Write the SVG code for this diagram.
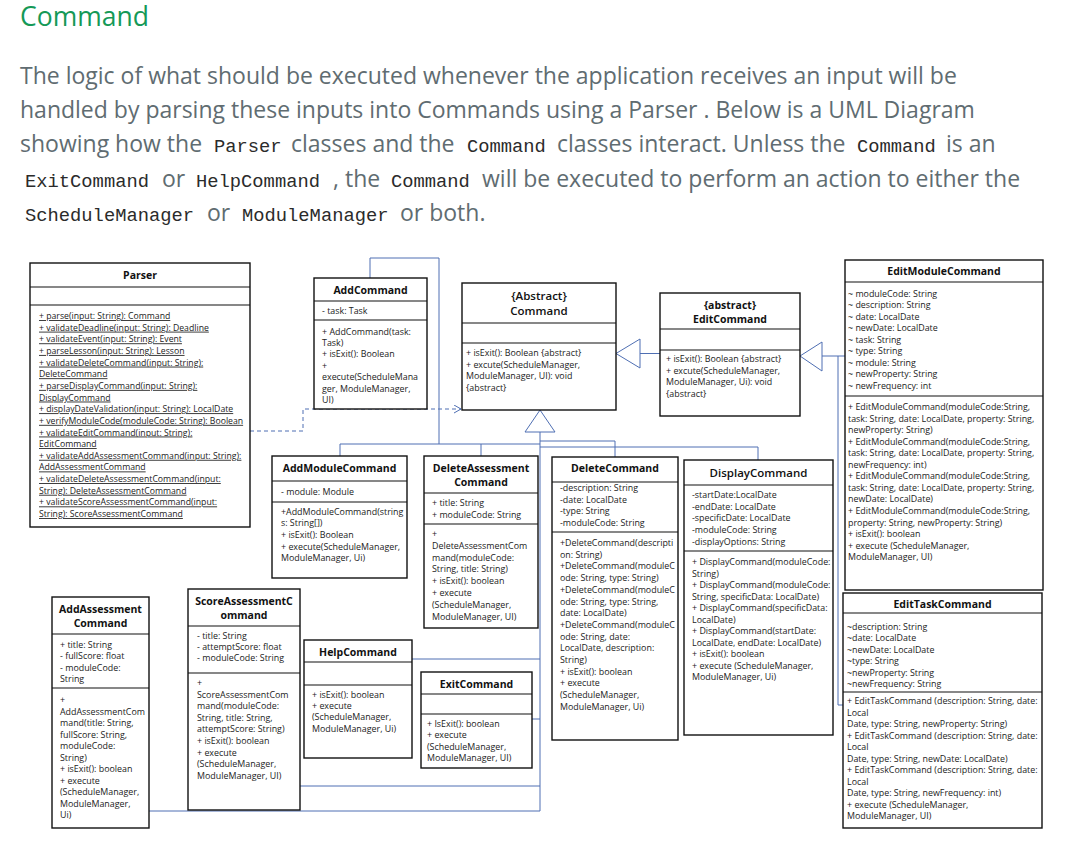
<svg xmlns="http://www.w3.org/2000/svg" width="1072" height="847" viewBox="0 0 1072 847">
<style>
.b{fill:#fff;stroke:#111;stroke-width:1.4}
.d{stroke:#111;stroke-width:1.2}
.t{font-family:'Open Sans','Liberation Sans',sans-serif;font-size:8.9px;fill:#222}
.u{text-decoration:underline;font-size:8.7px}
.h{font-family:'Open Sans','Liberation Sans',sans-serif;font-size:10.5px;font-weight:bold;fill:#111;text-anchor:middle}
.hn{font-family:'Open Sans','Liberation Sans',sans-serif;font-size:11.5px;font-weight:600;fill:#111;text-anchor:middle}
.c{fill:none;stroke:#4f6fb3;stroke-width:1}
.dash{fill:none;stroke:#4f6fb3;stroke-width:1;stroke-dasharray:4 3}
.tri{fill:#fff;stroke:#4f6fb3;stroke-width:1}
.p{font-family:'Open Sans','Liberation Sans',sans-serif;font-size:23px;fill:#606c71}
.k{font-family:'Liberation Mono','DejaVu Sans Mono',monospace;font-size:18.8px;fill:#2b2b2b}
</style>
<rect width="1072" height="847" fill="#fff"/>
<g id="header">
<text x="20" y="26" font-family="'Open Sans','Liberation Sans',sans-serif" font-size="26.5" fill="#159957">Command</text>
<text class="p" x="20" y="84">The logic of what should be executed whenever the application receives an input will be</text>
<text class="p" x="20" y="118">handled by parsing these inputs into Commands using a Parser . Below is a UML Diagram</text>
<text class="p" x="20" y="152">showing how the</text>
<text class="k" x="214" y="152">Parser</text>
<text class="p" x="291" y="152">classes and the</text>
<text class="k" x="467" y="152">Command</text>
<text class="p" x="557" y="152">classes interact. Unless the</text>
<text class="k" x="857" y="152">Command</text>
<text class="p" x="946" y="152">is an</text>
<text class="k" x="25" y="187">ExitCommand</text>
<text class="p" x="162" y="187">or</text>
<text class="k" x="196" y="187">HelpCommand</text>
<text class="p" x="333" y="187">, the</text>
<text class="k" x="391" y="187">Command</text>
<text class="p" x="482" y="187">will be executed to perform an action to either the</text>
<text class="k" x="25" y="221">ScheduleManager</text>
<text class="p" x="207" y="221">or</text>
<text class="k" x="242" y="221">ModuleManager</text>
<text class="p" x="400" y="221">or both.</text>
</g>
<defs>
<marker id="open" markerWidth="10" markerHeight="10" refX="8" refY="4" orient="auto" markerUnits="userSpaceOnUse">
<path d="M1,0 L8,4 L1,8" fill="none" stroke="#4f6fb3" stroke-width="1"/>
</marker>
</defs>
<g id="connectors">
<polyline class="c" points="370,278 370,258 439,258 439,444"/>
<polyline class="c" points="340,456 340,444 540,444"/>
<line class="c" x1="481" y1="444" x2="481" y2="456"/>
<line class="c" x1="540" y1="432" x2="540" y2="811"/>
<polyline class="c" points="540,441 615,441 615,457"/>
<polyline class="c" points="540,447 758,447 758,460"/>
<line class="c" x1="412" y1="659" x2="540" y2="659"/>
<line class="c" x1="532" y1="719" x2="540" y2="719"/>
<line class="c" x1="300" y1="786" x2="540" y2="786"/>
<line class="c" x1="149" y1="811" x2="540" y2="811"/>
<polygon class="tri" points="540,410 525,432 555,432"/>
<line class="c" x1="640" y1="353.5" x2="660" y2="353.5"/>
<polygon class="tri" points="616,353.5 640,339 640,368"/>
<line class="c" x1="822" y1="356" x2="845" y2="356"/>
<polyline class="c" points="838,356 838,705 843,705"/>
<polygon class="tri" points="800,356 822,342 822,371"/>
<polyline class="dash" points="250,431 303,431 303,409 461,409" marker-end="url(#open)"/>
</g>
<g id="Parser">
<rect class="b" x="30" y="263" width="220" height="264"/>
<line class="d" x1="30" y1="287" x2="250" y2="287"/>
<line class="d" x1="30" y1="305" x2="250" y2="305"/>
<text class="h" x="140" y="279">Parser</text>
<text class="t u" x="39" y="319"><tspan x="39">+ parse(input: String): Command</tspan><tspan x="39" dy="11.65">+ validateDeadline(input: String): Deadline</tspan><tspan x="39" dy="11.65">+ validateEvent(input: String): Event</tspan><tspan x="39" dy="11.65">+ parseLesson(input: String): Lesson</tspan><tspan x="39" dy="11.65">+ validateDeleteCommand(input: String):</tspan><tspan x="39" dy="11.65">DeleteCommand</tspan><tspan x="39" dy="11.65">+ parseDisplayCommand(input: String):</tspan><tspan x="39" dy="11.65">DisplayCommand</tspan><tspan x="39" dy="11.65">+ displayDateValidation(input: String): LocalDate</tspan><tspan x="39" dy="11.65">+ verifyModuleCode(moduleCode: String): Boolean</tspan><tspan x="39" dy="11.65">+ validateEditCommand(input: String):</tspan><tspan x="39" dy="11.65">EditCommand</tspan><tspan x="39" dy="11.65">+ validateAddAssessmentCommand(input: String):</tspan><tspan x="39" dy="11.65">AddAssessmentCommand</tspan><tspan x="39" dy="11.65">+ validateDeleteAssessmentCommand(input:</tspan><tspan x="39" dy="11.65">String): DeleteAssessmentCommand</tspan><tspan x="39" dy="11.65">+ validateScoreAssessmentCommand(input:</tspan><tspan x="39" dy="11.65">String): ScoreAssessmentCommand</tspan></text>
</g>
<g id="AddCommand">
<rect class="b" x="314" y="278" width="113" height="131"/>
<line class="d" x1="314" y1="301" x2="427" y2="301"/>
<line class="d" x1="314" y1="320" x2="427" y2="320"/>
<text class="h" x="370.5" y="294">AddCommand</text>
<text class="t" x="322" y="314">- task: Task</text>
<text class="t" x="322" y="334.5"><tspan x="322">+ AddCommand(task:</tspan><tspan x="322" dy="11.4">Task)</tspan><tspan x="322" dy="11.4">+ isExit(): Boolean</tspan><tspan x="322" dy="11.4">+</tspan><tspan x="322" dy="11.4">execute(ScheduleMana</tspan><tspan x="322" dy="11.4">ger, ModuleManager,</tspan><tspan x="322" dy="11.4">UI)</tspan></text>
</g>
<g id="Command">
<rect class="b" x="462" y="283" width="154" height="127"/>
<line class="d" x1="462" y1="323" x2="616" y2="323"/>
<line class="d" x1="462" y1="343" x2="616" y2="343"/>
<text class="hn" x="539" y="300">{Abstract}</text>
<text class="hn" x="539" y="315">Command</text>
<text class="t" x="466" y="356"><tspan x="466">+ isExit(): Boolean {abstract}</tspan><tspan x="466" dy="11.7">+ excute(ScheduleManager,</tspan><tspan x="466" dy="11.7">ModuleManager, UI): void</tspan><tspan x="466" dy="11.7">{abstract}</tspan></text>
</g>
<g id="EditCommand">
<rect class="b" x="660" y="293" width="140" height="123"/>
<line class="d" x1="660" y1="329" x2="800" y2="329"/>
<line class="d" x1="660" y1="350" x2="800" y2="350"/>
<text class="h" x="730" y="309">{abstract}</text>
<text class="h" x="730" y="323">EditCommand</text>
<text class="t" x="666" y="362"><tspan x="666">+ isExit(): Boolean {abstract}</tspan><tspan x="666" dy="11.7">+ excute(ScheduleManager,</tspan><tspan x="666" dy="11.7">ModuleManager, Ui): void</tspan><tspan x="666" dy="11.7">{abstract}</tspan></text>
</g>
<g id="EditModuleCommand">
<rect class="b" x="845" y="260" width="198" height="330"/>
<line class="d" x1="845" y1="282" x2="1043" y2="282"/>
<line class="d" x1="845" y1="396" x2="1043" y2="396"/>
<text class="h" x="944" y="275">EditModuleCommand</text>
<text class="t" x="848" y="296.5"><tspan x="848">~ moduleCode: String</tspan><tspan x="848" dy="11.5">~ description: String</tspan><tspan x="848" dy="11.5">~ date: LocalDate</tspan><tspan x="848" dy="11.5">~ newDate: LocalDate</tspan><tspan x="848" dy="11.5">~ task: String</tspan><tspan x="848" dy="11.5">~ type: String</tspan><tspan x="848" dy="11.5">~ module: String</tspan><tspan x="848" dy="11.5">~ newProperty: String</tspan><tspan x="848" dy="11.5">~ newFrequency: int</tspan></text>
<text class="t" x="848" y="410"><tspan x="848">+ EditModuleCommand(moduleCode:String,</tspan><tspan x="848" dy="11.55">task: String, date: LocalDate, property: String,</tspan><tspan x="848" dy="11.55">newProperty: String)</tspan><tspan x="848" dy="11.55">+ EditModuleCommand(moduleCode:String,</tspan><tspan x="848" dy="11.55">task: String, date: LocalDate, property: String,</tspan><tspan x="848" dy="11.55">newFrequency: int)</tspan><tspan x="848" dy="11.55">+ EditModuleCommand(moduleCode:String,</tspan><tspan x="848" dy="11.55">task: String, date: LocalDate, property: String,</tspan><tspan x="848" dy="11.55">newDate: LocalDate)</tspan><tspan x="848" dy="11.55">+ EditModuleCommand(moduleCode:String,</tspan><tspan x="848" dy="11.55">property: String, newProperty: String)</tspan><tspan x="848" dy="11.55">+ isExit(): boolean</tspan><tspan x="848" dy="11.55">+ execute (ScheduleManager,</tspan><tspan x="848" dy="11.55">ModuleManager, UI)</tspan></text>
</g>
<g id="EditTaskCommand">
<rect class="b" x="843" y="593" width="199" height="235"/>
<line class="d" x1="843" y1="613" x2="1042" y2="613"/>
<line class="d" x1="843" y1="692" x2="1042" y2="692"/>
<text class="h" x="942.5" y="608">EditTaskCommand</text>
<text class="t" x="847" y="630"><tspan x="847">~description: String</tspan><tspan x="847" dy="11.4">~date: LocalDate</tspan><tspan x="847" dy="11.4">~newDate: LocalDate</tspan><tspan x="847" dy="11.4">~type: String</tspan><tspan x="847" dy="11.4">~newProperty: String</tspan><tspan x="847" dy="11.4">~newFrequency: String</tspan></text>
<text class="t" x="847" y="704"><tspan x="847">+ EditTaskCommand (description: String, date:</tspan><tspan x="847" dy="11.5">Local</tspan><tspan x="847" dy="11.5">Date, type: String, newProperty: String)</tspan><tspan x="847" dy="11.5">+ EditTaskCommand (description: String, date:</tspan><tspan x="847" dy="11.5">Local</tspan><tspan x="847" dy="11.5">Date, type: String, newDate: LocalDate)</tspan><tspan x="847" dy="11.5">+ EditTaskCommand (description: String, date:</tspan><tspan x="847" dy="11.5">Local</tspan><tspan x="847" dy="11.5">Date, type: String, newFrequency: int)</tspan><tspan x="847" dy="11.5">+ execute (ScheduleManager,</tspan><tspan x="847" dy="11.5">ModuleManager, UI)</tspan></text>
</g>
<g id="AddModuleCommand">
<rect class="b" x="272" y="456" width="135" height="122"/>
<line class="d" x1="272" y1="481" x2="407" y2="481"/>
<line class="d" x1="272" y1="502" x2="407" y2="502"/>
<text class="h" x="339.5" y="472">AddModuleCommand</text>
<text class="t" x="281" y="495">- module: Module</text>
<text class="t" x="281" y="514.5"><tspan x="281">+AddModuleCommand(string</tspan><tspan x="281" dy="11.7">s: String[])</tspan><tspan x="281" dy="11.7">+ isExit(): Boolean</tspan><tspan x="281" dy="11.7">+ execute(ScheduleManager,</tspan><tspan x="281" dy="11.7">ModuleManager, Ui)</tspan></text>
</g>
<g id="DeleteAssessmentCommand">
<rect class="b" x="424" y="456" width="114" height="172"/>
<line class="d" x1="424" y1="493" x2="538" y2="493"/>
<line class="d" x1="424" y1="524" x2="538" y2="524"/>
<text class="h" x="481" y="472">DeleteAssessment</text>
<text class="h" x="481" y="486">Command</text>
<text class="t" x="432" y="506"><tspan x="432">+ title: String</tspan><tspan x="432" dy="11.5">+ moduleCode: String</tspan></text>
<text class="t" x="432" y="537"><tspan x="432">+</tspan><tspan x="432" dy="11.8">DeleteAssessmentCom</tspan><tspan x="432" dy="11.8">mand(moduleCode:</tspan><tspan x="432" dy="11.8">String, title: String)</tspan><tspan x="432" dy="11.8">+ isExit(): boolean</tspan><tspan x="432" dy="11.8">+ execute</tspan><tspan x="432" dy="11.8">(ScheduleManager,</tspan><tspan x="432" dy="11.8">ModuleManager, UI)</tspan></text>
</g>
<g id="DeleteCommand">
<rect class="b" x="552" y="457" width="126" height="283"/>
<line class="d" x1="552" y1="482" x2="678" y2="482"/>
<line class="d" x1="552" y1="532" x2="678" y2="532"/>
<text class="h" x="615" y="472">DeleteCommand</text>
<text class="t" x="560" y="491"><tspan x="560">-description: String</tspan><tspan x="560" dy="11.7">-date: LocalDate</tspan><tspan x="560" dy="11.7">-type: String</tspan><tspan x="560" dy="11.7">-moduleCode: String</tspan></text>
<text class="t" x="560" y="546"><tspan x="560">+DeleteCommand(descripti</tspan><tspan x="560" dy="11.7">on: String)</tspan><tspan x="560" dy="11.7">+DeleteCommand(moduleC</tspan><tspan x="560" dy="11.7">ode: String, type: String)</tspan><tspan x="560" dy="11.7">+DeleteCommand(moduleC</tspan><tspan x="560" dy="11.7">ode: String, type: String,</tspan><tspan x="560" dy="11.7">date: LocalDate)</tspan><tspan x="560" dy="11.7">+DeleteCommand(moduleC</tspan><tspan x="560" dy="11.7">ode: String, date:</tspan><tspan x="560" dy="11.7">LocalDate, description:</tspan><tspan x="560" dy="11.7">String)</tspan><tspan x="560" dy="11.7">+ isExit(): boolean</tspan><tspan x="560" dy="11.7">+ execute</tspan><tspan x="560" dy="11.7">(ScheduleManager,</tspan><tspan x="560" dy="11.7">ModuleManager, Ui)</tspan></text>
</g>
<g id="DisplayCommand">
<rect class="b" x="684" y="460" width="149" height="275"/>
<line class="d" x1="684" y1="485" x2="833" y2="485"/>
<line class="d" x1="684" y1="551" x2="833" y2="551"/>
<text class="hn" x="758.5" y="477">DisplayCommand</text>
<text class="t" x="692" y="498"><tspan x="692">-startDate:LocalDate</tspan><tspan x="692" dy="11.7">-endDate: LocalDate</tspan><tspan x="692" dy="11.7">-specificDate: LocalDate</tspan><tspan x="692" dy="11.7">-moduleCode: String</tspan><tspan x="692" dy="11.7">-displayOptions: String</tspan></text>
<text class="t" x="692" y="565"><tspan x="692">+ DisplayCommand(moduleCode:</tspan><tspan x="692" dy="11.5">String)</tspan><tspan x="692" dy="11.5">+ DisplayCommand(moduleCode:</tspan><tspan x="692" dy="11.5">String, specificData: LocalDate)</tspan><tspan x="692" dy="11.5">+ DisplayCommand(specificData:</tspan><tspan x="692" dy="11.5">LocalDate)</tspan><tspan x="692" dy="11.5">+ DisplayCommand(startDate:</tspan><tspan x="692" dy="11.5">LocalDate, endDate: LocalDate)</tspan><tspan x="692" dy="11.5">+ isExit(): boolean</tspan><tspan x="692" dy="11.5">+ execute (ScheduleManager,</tspan><tspan x="692" dy="11.5">ModuleManager, Ui)</tspan></text>
</g>
<g id="AddAssessmentCommand">
<rect class="b" x="52" y="597" width="97" height="231"/>
<line class="d" x1="52" y1="634" x2="149" y2="634"/>
<line class="d" x1="52" y1="688" x2="149" y2="688"/>
<text class="h" x="100.5" y="613">AddAssessment</text>
<text class="h" x="100.5" y="627">Command</text>
<text class="t" x="60" y="648"><tspan x="60">+ title: String</tspan><tspan x="60" dy="11.4">- fullScore: float</tspan><tspan x="60" dy="11.4">- moduleCode:</tspan><tspan x="60" dy="11.4">String</tspan></text>
<text class="t" x="60" y="703"><tspan x="60">+</tspan><tspan x="60" dy="11.5">AddAssessmentCom</tspan><tspan x="60" dy="11.5">mand(title: String,</tspan><tspan x="60" dy="11.5">fullScore: String,</tspan><tspan x="60" dy="11.5">moduleCode:</tspan><tspan x="60" dy="11.5">String)</tspan><tspan x="60" dy="11.5">+ isExit(): boolean</tspan><tspan x="60" dy="11.5">+ execute</tspan><tspan x="60" dy="11.5">(ScheduleManager,</tspan><tspan x="60" dy="11.5">ModuleManager,</tspan><tspan x="60" dy="11.5">Ui)</tspan></text>
</g>
<g id="ScoreAssessmentCommand">
<rect class="b" x="188" y="589" width="112" height="221"/>
<line class="d" x1="188" y1="626" x2="300" y2="626"/>
<line class="d" x1="188" y1="673" x2="300" y2="673"/>
<text class="h" x="244" y="605">ScoreAssessmentC</text>
<text class="h" x="244" y="619">ommand</text>
<text class="t" x="197" y="639"><tspan x="197">- title: String</tspan><tspan x="197" dy="11.2">- attemptScore: float</tspan><tspan x="197" dy="11.2">- moduleCode: String</tspan></text>
<text class="t" x="197" y="686"><tspan x="197">+</tspan><tspan x="197" dy="11.6">ScoreAssessmentCom</tspan><tspan x="197" dy="11.6">mand(moduleCode:</tspan><tspan x="197" dy="11.6">String, title: String,</tspan><tspan x="197" dy="11.6">attemptScore: String)</tspan><tspan x="197" dy="11.6">+ isExit(): boolean</tspan><tspan x="197" dy="11.6">+ execute</tspan><tspan x="197" dy="11.6">(ScheduleManager,</tspan><tspan x="197" dy="11.6">ModuleManager, UI)</tspan></text>
</g>
<g id="HelpCommand">
<rect class="b" x="304" y="640" width="108" height="118"/>
<line class="d" x1="304" y1="662" x2="412" y2="662"/>
<line class="d" x1="304" y1="685" x2="412" y2="685"/>
<text class="h" x="358" y="656">HelpCommand</text>
<text class="t" x="312" y="698"><tspan x="312">+ isExit(): boolean</tspan><tspan x="312" dy="11.2">+ execute</tspan><tspan x="312" dy="11.2">(ScheduleManager,</tspan><tspan x="312" dy="11.2">ModuleManager, Ui)</tspan></text>
</g>
<g id="ExitCommand">
<rect class="b" x="421" y="672" width="111" height="96"/>
<line class="d" x1="421" y1="694" x2="532" y2="694"/>
<line class="d" x1="421" y1="714" x2="532" y2="714"/>
<text class="h" x="476.5" y="688">ExitCommand</text>
<text class="t" x="427" y="727"><tspan x="427">+ IsExit(): boolean</tspan><tspan x="427" dy="11.4">+ execute</tspan><tspan x="427" dy="11.4">(ScheduleManager,</tspan><tspan x="427" dy="11.4">ModuleManager, UI)</tspan></text>
</g>
</svg>
